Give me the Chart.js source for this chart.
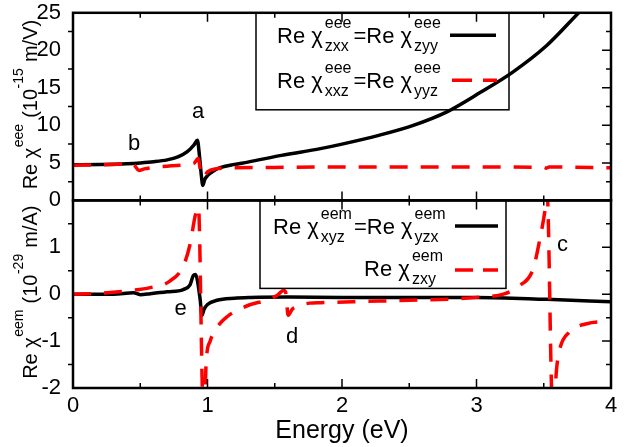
<!DOCTYPE html>
<html>
<head>
<meta charset="utf-8">
<script src="https://cdn.jsdelivr.net/npm/chart.js@4.4.1/dist/chart.umd.min.js"></script>
<style>
  body { margin: 0; background: #fff; }
  canvas { display: block; }
</style>
</head>
<body>
<canvas id="chiChart" width="641" height="447"></canvas>
<script>
const FAMILY = '"Liberation Sans", Arial, sans-serif';

// upper panel: Re chi^eee (10^-15 m/V)
const zxxEnergy = [0, 0.2, 0.4, 0.5, 0.6, 0.7, 0.78, 0.85, 0.9, 0.925, 0.94, 0.955, 0.965, 0.98, 1.0, 1.05, 1.1, 1.2, 1.3, 1.55, 1.84, 2.0, 2.28, 2.53, 2.78, 3.03, 3.27, 3.52, 3.76, 3.85];
const zxxValue  = [4.75, 4.8, 4.9, 5.0, 5.15, 5.4, 5.8, 6.5, 7.4, 8.0, 6.0, 3.2, 2.0, 2.8, 3.3, 4.0, 4.4, 4.8, 5.1, 6.0, 6.9, 7.5, 8.7, 10.0, 11.8, 14.4, 17.1, 20.6, 25.0, 26.6];
const xxzEnergy = [0, 0.2, 0.35, 0.42, 0.46, 0.49, 0.53, 0.6, 0.7, 0.8, 0.9, 0.93, 0.955, 0.97, 1.0, 1.06, 1.2, 1.5, 2.0, 3.0, 3.5, 3.52, 3.54, 4.0];
const xxzValue  = [4.7, 4.75, 4.85, 5.0, 4.6, 4.0, 4.2, 4.4, 4.55, 4.7, 4.95, 5.6, 3.3, 3.1, 3.8, 4.2, 4.35, 4.4, 4.45, 4.45, 4.4, 4.3, 4.45, 4.35];

// lower panel: Re chi^eem (10^-29 m/A)
const xyzEnergy = [0, 0.3, 0.45, 0.5, 0.574, 0.7, 0.82, 0.87, 0.895, 0.91, 0.945, 0.958, 0.975, 1.0, 1.07, 1.2, 1.32, 1.6, 2.0, 2.5, 3.0, 3.52, 4.0];
const xyzValue  = [0, 0, 0.03, -0.01, 0.01, 0.05, 0.1, 0.2, 0.4, 0.42, -0.1, -0.45, -0.32, -0.22, -0.13, -0.085, -0.07, -0.06, -0.07, -0.07, -0.07, -0.11, -0.16];
const zxyEnergy = [0, 0.2, 0.4, 0.574, 0.72, 0.82, 0.87, 0.91, 0.933, 0.968, 0.978, 0.99, 1.02, 1.07, 1.15, 1.22, 1.32, 1.45, 1.52, 1.565, 1.58, 1.6, 1.63, 1.66, 1.76, 1.84, 2.08, 2.5, 2.83, 3.03, 3.2, 3.32, 3.42, 3.47, 3.51, 3.525, 3.565, 3.575, 3.595, 3.62, 3.69, 3.82, 4.0];
const zxyValue  = [0, 0.02, 0.07, 0.14, 0.28, 0.6, 1.06, 1.69, 1.85, -2.4, -2.4, -1.45, -1.0, -0.71, -0.47, -0.35, -0.22, -0.12, -0.02, 0.08, 0.05, -0.45, -0.32, -0.27, -0.19, -0.18, -0.16, -0.13, -0.1, -0.06, 0.0, 0.18, 0.53, 1.16, 1.8, 2.15, -2.4, -2.4, -1.6, -1.16, -0.81, -0.63, -0.58];

// tick labels
const energyTicks = [0, 1, 2, 3, 4];
const eeeTicks = [0, 5, 10, 15, 20, 25];
const eemTicks = [-2, -1, 0, 1];

// letters marking the features
const noteText   = ['a', 'b', 'c', 'd', 'e'];
const noteEnergy = [0.93, 0.455, 3.64, 1.63, 0.8];
const noteValue  = [11.8, 7.5, 1.06, -0.92, -0.32];
const noteAxis   = ['y', 'y', 'y2', 'y2', 'y2'];

// rich text pieces: [text, 0 = normal, 1 = superscript, -1 = subscript]
const eeeTitle = [['Re χ', 0], ['eee', 1], [' (10', 0], ['-15', 1], [' m/V)', 0]];
const eemTitle = [['Re χ', 0], ['eem', 1], [' (10', 0], ['-29', 1], [' m/A)', 0]];
const legZxx = [['Re χ', 0], ['eee', 1], ['zxx', -1], ['=Re χ', 0], ['eee', 1], ['zyy', -1]];
const legXxz = [['Re χ', 0], ['eee', 1], ['xxz', -1], ['=Re χ', 0], ['eee', 1], ['yyz', -1]];
const legXyz = [['Re χ', 0], ['eem', 1], ['xyz', -1], ['=Re χ', 0], ['eem', 1], ['yzx', -1]];
const legZxy = [['Re χ', 0], ['eem', 1], ['zxy', -1]];

function pts(xs, ys) {
    return xs.map((x, i) => ({x: x, y: ys[i]}));
}

// draws text with stacked super/subscripts, returns the end x
function drawRich(ctx, segs, x, base, big, small, gap, measureOnly) {
    let i = 0;
    while (i < segs.length) {
        if (segs[i][1] === 0) {
            ctx.font = big + 'px ' + FAMILY;
            if (!measureOnly) ctx.fillText(segs[i][0], x, base);
            x += ctx.measureText(segs[i][0]).width;
            i++;
        } else {
            ctx.font = small + 'px ' + FAMILY;
            x += gap;
            let w = 0;
            while (i < segs.length && segs[i][1] !== 0) {
                const dy = segs[i][1] > 0 ? -big * 0.7 : big * 0.36;
                if (!measureOnly) ctx.fillText(segs[i][0], x, base + dy);
                w = Math.max(w, ctx.measureText(segs[i][0]).width);
                i++;
            }
            x += w + gap;
        }
    }
    return x;
}

function sample(ctx, x0, x1, y, color, dash) {
    ctx.save();
    ctx.strokeStyle = color;
    ctx.lineWidth = 3.5;
    ctx.setLineDash(dash);
    ctx.beginPath();
    ctx.moveTo(x0, y);
    ctx.lineTo(x1, y);
    ctx.stroke();
    ctx.restore();
}

const framePlugin = {
    id: 'frame',
    afterDatasetsDraw(chart) {
        const ctx = chart.ctx;
        const area = chart.chartArea;
        const sx = chart.scales.x;
        const panels = [
            {s: chart.scales.y, step: 2.5, major: 5},
            {s: chart.scales.y2, step: 0.5, major: 1}
        ];
        ctx.save();
        ctx.strokeStyle = '#000';
        ctx.fillStyle = '#000';

        // frames and ticks
        panels.forEach(p => {
            const s = p.s;
            ctx.lineWidth = 2.5;
            ctx.strokeRect(area.left, s.top, area.right - area.left, s.bottom - s.top);
            ctx.lineWidth = 1.5;
            ctx.beginPath();
            for (let v = 0.5; v < 4; v += 0.5) {
                const px = sx.getPixelForValue(v);
                const len = v % 1 === 0 ? 9 : 5;
                ctx.moveTo(px, s.bottom); ctx.lineTo(px, s.bottom - len);
                ctx.moveTo(px, s.top); ctx.lineTo(px, s.top + len);
            }
            for (let v = s.min + p.step; v < s.max - 1e-9; v += p.step) {
                const py = s.getPixelForValue(v);
                const isMajor = Math.abs(v / p.major - Math.round(v / p.major)) < 1e-6;
                ctx.moveTo(area.right, py); ctx.lineTo(area.right - (isMajor ? 9 : 5), py);
                if (!isMajor) { ctx.moveTo(area.left, py); ctx.lineTo(area.left - 5, py); }
            }
            ctx.stroke();
        });

        // y titles, rotated
        ctx.textAlign = 'left';
        ctx.textBaseline = 'alphabetic';
        [[eeeTitle, chart.scales.y], [eemTitle, chart.scales.y2]].forEach(([segs, s]) => {
            const w = drawRich(ctx, segs, 0, 0, 20, 14, 0.5, true);
            ctx.save();
            ctx.translate(36.5, (s.top + s.bottom) / 2 - 2);
            ctx.rotate(-Math.PI / 2);
            drawRich(ctx, segs, -w / 2, 0, 20, 14, 0.5, false);
            ctx.restore();
        });

        // upper legend
        const y = chart.scales.y, y2 = chart.scales.y2;
        ctx.lineWidth = 1.5;
        ctx.strokeRect(256, y.top, 253, 97);
        drawRich(ctx, legZxx, 277, y.top + 30.5, 22, 16, 2, false);
        drawRich(ctx, legXxz, 277, y.top + 75.5, 22, 16, 2, false);
        sample(ctx, 450, 496, y.top + 22.5, '#000', []);
        sample(ctx, 452, 497, y.top + 67.5, '#ff0000', [20, 11]);

        // lower legend
        ctx.lineWidth = 1.5;
        ctx.strokeRect(260, y2.top, 246, 88);
        drawRich(ctx, legXyz, 273, y2.top + 34, 22, 16, 2, false);
        const w2 = drawRich(ctx, legZxy, 0, 0, 22, 16, 2, true);
        drawRich(ctx, legZxy, 445 - w2, y2.top + 75.5, 22, 16, 2, false);
        sample(ctx, 455, 498, y2.top + 25.5, '#000', []);
        sample(ctx, 455, 498, y2.top + 69.5, '#ff0000', [18, 10]);

        // feature letters
        ctx.font = '22px ' + FAMILY;
        ctx.textAlign = 'center';
        ctx.textBaseline = 'middle';
        noteText.forEach((t, i) => {
            const s = chart.scales[noteAxis[i]];
            ctx.fillText(t, sx.getPixelForValue(noteEnergy[i]), s.getPixelForValue(noteValue[i]));
        });
        ctx.restore();
    }
};

const yTickFont = {size: 22, family: FAMILY, lineHeight: 0.8};

new Chart(document.getElementById('chiChart'), {
    type: 'line',
    data: {
        datasets: [
            {data: pts(xxzEnergy, xxzValue), yAxisID: 'y', borderColor: '#ff0000', borderDash: [18, 13], order: 0},
            {data: pts(zxyEnergy, zxyValue), yAxisID: 'y2', borderColor: '#ff0000', borderDash: [18, 13], order: 0},
            {data: pts(zxxEnergy, zxxValue), yAxisID: 'y', borderColor: '#000', order: 1},
            {data: pts(xyzEnergy, xyzValue), yAxisID: 'y2', borderColor: '#000', order: 1}
        ]
    },
    options: {
        responsive: false,
        animation: false,
        layout: {padding: {top: 9, right: 30, bottom: 0, left: 0}},
        elements: {
            point: {radius: 0},
            line: {borderWidth: 3.5, cubicInterpolationMode: 'monotone', borderJoinStyle: 'round', fill: false}
        },
        plugins: {legend: {display: false}, tooltip: {enabled: false}},
        scales: {
            x: {
                type: 'linear', min: 0, max: 4,
                grid: {display: false}, border: {display: false},
                afterBuildTicks: s => { s.ticks = energyTicks.map(v => ({value: v})); },
                afterFit: s => { s.height = 59; },
                ticks: {font: {size: 22, family: FAMILY}, color: '#000', padding: -3, maxRotation: 0},
                title: {display: true, text: 'Energy (eV)', color: '#000', font: {size: 25, family: FAMILY, lineHeight: 1}, padding: {top: 0, bottom: 3}}
            },
            // later stacked axes are placed higher, so the lower panel comes first
            y2: {
                stack: 'panels', stackWeight: 1, min: -2, max: 2,
                grid: {display: false}, border: {display: false},
                afterBuildTicks: s => { s.ticks = eemTicks.map(v => ({value: v})); },
                afterFit: s => { s.width = 73; },
                ticks: {font: yTickFont, color: '#000', padding: 4}
            },
            y: {
                stack: 'panels', stackWeight: 1, min: 0, max: 25,
                grid: {display: false}, border: {display: false},
                afterBuildTicks: s => { s.ticks = eeeTicks.map(v => ({value: v})); },
                afterFit: s => { s.width = 73; },
                ticks: {font: yTickFont, color: '#000', padding: 4}
            }
        }
    },
    plugins: [framePlugin]
});
</script>
</body>
</html>
